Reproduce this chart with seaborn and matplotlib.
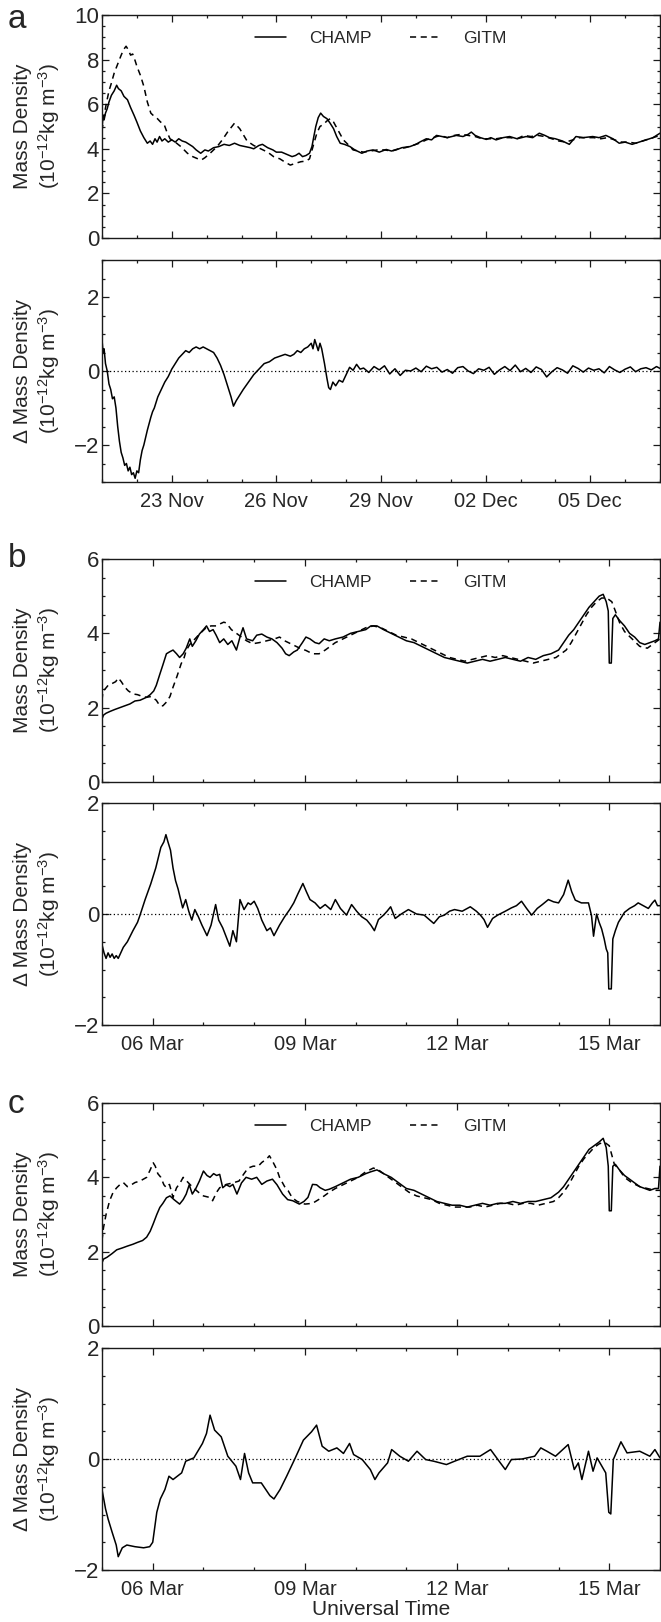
import numpy as np
import pandas as pd
import matplotlib
matplotlib.use('Agg')
import matplotlib.pyplot as plt
import matplotlib.dates as mdates
from matplotlib.ticker import MultipleLocator, FixedLocator
import seaborn as sns

sns.set_style("ticks")
plt.rcParams['font.family'] = ['Liberation Sans', 'DejaVu Sans']
plt.rcParams['mathtext.fontset'] = 'custom'
plt.rcParams['mathtext.rm'] = 'Liberation Sans'
plt.rcParams['mathtext.it'] = 'Liberation Sans:italic'
plt.rcParams['mathtext.default'] = 'regular'

# ---------------- panel a (days from 21 Nov 00 UT) ----------------
a_start = '2003-11-21'
a_end = '2003-12-07'
a_ticks = ['2003-11-23', '2003-11-26', '2003-11-29', '2003-12-02', '2003-12-05']

a_champ_day = [0.0, 0.03, 0.06, 0.1, 0.15, 0.2, 0.27, 0.35, 0.42, 0.47, 0.55, 0.63, 0.73, 0.82, 0.92,
               1.0, 1.1, 1.2, 1.3, 1.38, 1.45, 1.52, 1.58, 1.65, 1.72, 1.8, 1.9, 2.0, 2.1, 2.2, 2.3,
               2.4, 2.5, 2.6, 2.7, 2.83, 2.95, 3.05, 3.2, 3.35, 3.5, 3.65, 3.8, 3.95, 4.1, 4.25, 4.35,
               4.5, 4.6, 4.75, 4.9, 5.0, 5.15, 5.3, 5.45, 5.55, 5.65, 5.75, 5.85, 5.95, 6.02, 6.08,
               6.13, 6.2, 6.27, 6.35, 6.45, 6.54, 6.64, 6.73, 6.83, 6.95, 7.11, 7.25, 7.45, 7.6, 7.77,
               7.95, 8.15, 8.3, 8.43, 8.6, 8.83, 9.0, 9.11, 9.3, 9.45, 9.59, 9.75, 9.9, 10.16, 10.35,
               10.5, 10.59, 10.7, 10.85, 11.02, 11.15, 11.3, 11.5, 11.69, 11.9, 12.16, 12.35, 12.54,
               12.7, 12.83, 13.0, 13.2, 13.4, 13.59, 13.8, 14.07, 14.25, 14.45, 14.65, 14.83, 15.0,
               15.2, 15.4, 15.6, 15.8, 16.0]
a_champ = [4.9, 5.5, 5.3, 5.6, 5.8, 6.1, 6.4, 6.6, 6.85, 6.7, 6.6, 6.35, 6.2, 5.85, 5.5,
           5.2, 4.8, 4.5, 4.25, 4.35, 4.2, 4.45, 4.3, 4.55, 4.35, 4.45, 4.3, 4.4, 4.3, 4.45, 4.35,
           4.3, 4.2, 4.1, 3.95, 3.8, 3.95, 3.9, 4.05, 4.1, 4.2, 4.15, 4.25, 4.15, 4.1, 4.05, 4.0,
           4.15, 4.2, 4.05, 3.95, 3.85, 3.85, 3.75, 3.65, 3.7, 3.8, 3.65, 3.7, 3.8, 4.1, 4.6,
           5.0, 5.4, 5.6, 5.45, 5.35, 5.15, 4.9, 4.55, 4.25, 4.2, 4.1, 3.95, 3.8, 3.9, 3.95,
           3.85, 3.97, 3.9, 3.95, 4.05, 4.1, 4.2, 4.3, 4.45, 4.4, 4.6, 4.55, 4.5, 4.6, 4.55,
           4.65, 4.75, 4.6, 4.5, 4.42, 4.5, 4.4, 4.5, 4.55, 4.45, 4.55, 4.5, 4.7,
           4.6, 4.5, 4.45, 4.35, 4.2, 4.55, 4.5, 4.55, 4.5, 4.6, 4.45, 4.25, 4.3,
           4.2, 4.3, 4.4, 4.5, 4.7]

a_gitm_day = [0.0, 0.05, 0.12, 0.2, 0.26, 0.35, 0.45, 0.55, 0.62, 0.69, 0.75, 0.82, 0.88, 0.95, 1.0,
              1.1, 1.2, 1.3, 1.4, 1.5, 1.59, 1.68, 1.78, 1.85, 1.95, 2.1, 2.26, 2.45, 2.6, 2.75, 2.85,
              2.95, 3.1, 3.3, 3.45, 3.6, 3.8, 3.95, 4.16, 4.35, 4.55, 4.75, 4.92, 5.1, 5.25, 5.4,
              5.55, 5.7, 5.85, 5.95, 6.05, 6.16, 6.25, 6.35, 6.45, 6.54, 6.64, 6.78, 6.92, 7.05, 7.2,
              7.35, 7.5, 7.7, 7.9, 8.1, 8.3, 8.5, 8.7, 8.9, 9.1, 9.3, 9.5, 9.7, 9.9, 10.1, 10.3,
              10.5, 10.7, 10.9, 11.1, 11.3, 11.5, 11.7, 11.9, 12.1, 12.3, 12.5, 12.7, 12.9, 13.1,
              13.3, 13.5, 13.7, 13.9, 14.1, 14.3, 14.5, 14.7, 14.9, 15.1, 15.3, 15.5, 15.7, 15.9, 16.0]
a_gitm = [4.8, 5.4, 6.0, 6.6, 6.9, 7.4, 7.8, 8.2, 8.45, 8.6, 8.45, 8.2, 8.25, 7.95, 7.7,
          7.3, 6.8, 6.1, 5.6, 5.45, 5.35, 5.2, 5.1, 4.8, 4.45, 4.3, 4.1, 3.8, 3.65, 3.55, 3.5,
          3.6, 3.8, 4.1, 4.4, 4.75, 5.15, 4.9, 4.35, 4.15, 4.0, 3.85, 3.65, 3.55, 3.4, 3.27,
          3.35, 3.42, 3.45, 3.55, 4.1, 4.7, 5.0, 5.1, 5.25, 5.35, 5.2, 4.8, 4.4, 4.2, 3.95,
          3.9, 3.85, 3.9, 3.95, 3.95, 3.9, 4.0, 4.05, 4.15, 4.25, 4.4, 4.5, 4.6, 4.5, 4.6, 4.65,
          4.6, 4.55, 4.45, 4.45, 4.45, 4.5, 4.5, 4.45, 4.6, 4.55, 4.6, 4.55, 4.45, 4.35,
          4.3, 4.4, 4.5, 4.5, 4.5, 4.45, 4.5, 4.4, 4.3, 4.3, 4.25, 4.35, 4.45, 4.55, 4.6]

a_diff_day = [0.0, 0.03, 0.06, 0.1, 0.15, 0.2, 0.25, 0.3, 0.35, 0.4, 0.45, 0.5, 0.55, 0.6, 0.65,
              0.7, 0.75, 0.8, 0.85, 0.9, 0.95, 1.0, 1.05, 1.1, 1.15, 1.2, 1.3, 1.4, 1.45, 1.5, 1.6,
              1.7, 1.8, 1.9, 2.0, 2.1, 2.2, 2.3, 2.4, 2.5, 2.6, 2.7, 2.8, 2.9, 3.0, 3.1, 3.2, 3.3,
              3.4, 3.5, 3.6, 3.7, 3.77, 3.85, 3.95, 4.05, 4.2, 4.35, 4.5, 4.65, 4.8, 4.95, 5.1,
              5.25, 5.4, 5.5, 5.6, 5.7, 5.8, 5.9, 6.0, 6.05, 6.1, 6.15, 6.2, 6.25, 6.3, 6.38, 6.45,
              6.5, 6.55, 6.62, 6.7, 6.8, 6.9, 7.0, 7.1, 7.2, 7.3, 7.4, 7.5, 7.65, 7.8, 7.95, 8.1,
              8.25, 8.4, 8.55, 8.7, 8.85, 9.0, 9.15, 9.3, 9.45, 9.6, 9.75, 9.9, 10.05, 10.2, 10.35,
              10.5, 10.65, 10.8, 10.95, 11.1, 11.25, 11.4, 11.55, 11.7, 11.85, 12.0, 12.15, 12.3,
              12.45, 12.6, 12.75, 12.9, 13.05, 13.2, 13.35, 13.5, 13.65, 13.8, 13.95, 14.1, 14.25,
              14.4, 14.55, 14.7, 14.85, 15.0, 15.15, 15.3, 15.45, 15.6, 15.75, 15.9, 16.0]
a_diff = [0.85, 0.5, 0.6, 0.2, 0.0, -0.35, -0.5, -0.75, -0.7, -1.0, -1.5, -1.9, -2.2, -2.35, -2.55,
          -2.5, -2.7, -2.6, -2.8, -2.75, -2.9, -2.7, -2.75, -2.4, -2.15, -2.0, -1.6, -1.25, -1.1, -1.0, -0.7,
          -0.5, -0.3, -0.15, 0.05, 0.2, 0.35, 0.45, 0.55, 0.5, 0.6, 0.65, 0.6, 0.65, 0.6, 0.55, 0.5, 0.35,
          0.15, -0.1, -0.4, -0.7, -0.95, -0.8, -0.65, -0.5, -0.3, -0.1, 0.05, 0.2, 0.25, 0.35, 0.4,
          0.45, 0.4, 0.45, 0.55, 0.5, 0.6, 0.65, 0.75, 0.6, 0.85, 0.7, 0.55, 0.75, 0.6, 0.2, -0.2,
          -0.45, -0.5, -0.3, -0.4, -0.25, -0.3, -0.1, 0.1, 0.02, 0.18, 0.05, 0.08, -0.04, 0.12, 0.03, 0.14,
          -0.08, 0.06, -0.12, 0.02, 0.0, 0.08, -0.02, 0.13, 0.06, 0.1, -0.03, 0.04, -0.06, 0.09, 0.12,
          0.0, -0.07, 0.06, 0.02, 0.1, -0.09, 0.03, 0.12, 0.01, 0.16, -0.02, 0.07, -0.04,
          0.11, 0.04, -0.16, -0.02, 0.09, 0.03, -0.06, 0.14, 0.07, -0.03, 0.08, 0.02, 0.06,
          -0.05, 0.12, 0.03, -0.04, 0.05, 0.11, -0.02, 0.06, 0.09, 0.03, 0.12, 0.07]

# ---------------- panels b, c (days from 05 Mar 00 UT) ----------------
bc_start = '2008-03-05'
bc_end = '2008-03-16'
bc_ticks = ['2008-03-06', '2008-03-09', '2008-03-12', '2008-03-15']

b_champ_day = [0.0, 0.03, 0.08, 0.16, 0.25, 0.35, 0.45, 0.55, 0.65, 0.75, 0.88, 0.95, 1.02, 1.07,
               1.14, 1.2, 1.27, 1.33, 1.4, 1.47, 1.53, 1.6, 1.66, 1.73, 1.78, 1.85, 1.92, 2.0, 2.06,
               2.12, 2.19, 2.25, 2.32, 2.4, 2.48, 2.56, 2.65, 2.72, 2.78, 2.85, 2.97, 3.05, 3.15,
               3.25, 3.35, 3.45, 3.55, 3.62, 3.69, 3.78, 3.85, 3.95, 4.02, 4.1, 4.2, 4.28, 4.38,
               4.48, 4.6, 4.75, 4.9, 5.05, 5.2, 5.3, 5.42, 5.55, 5.7, 5.85, 6.0, 6.15, 6.3, 6.45,
               6.6, 6.75, 6.9, 7.05, 7.2, 7.35, 7.5, 7.65, 7.8, 7.95, 8.1, 8.25, 8.4, 8.55, 8.7,
               8.85, 9.0, 9.1, 9.2, 9.3, 9.4, 9.5, 9.6, 9.7, 9.8, 9.88, 9.94, 9.98, 10.0, 10.04,
               10.07, 10.12, 10.2, 10.3, 10.4, 10.5, 10.6, 10.7, 10.8, 10.9, 10.97, 11.0]
b_champ = [1.7, 1.8, 1.85, 1.9, 1.95, 2.0, 2.05, 2.1, 2.18, 2.2, 2.28, 2.35, 2.45, 2.6,
           2.9, 3.15, 3.45, 3.5, 3.55, 3.45, 3.35, 3.45, 3.6, 3.85, 3.65, 3.8, 3.98, 4.1, 4.2,
           4.05, 4.1, 3.95, 3.75, 3.85, 3.7, 3.8, 3.55, 3.9, 4.15, 3.85, 3.8, 3.95, 3.98,
           3.9, 3.85, 3.75, 3.6, 3.45, 3.4, 3.5, 3.55, 3.75, 3.9, 3.85, 3.75, 3.72, 3.85,
           3.8, 3.85, 3.9, 4.0, 4.05, 4.1, 4.2, 4.2, 4.1, 4.0, 3.9, 3.8, 3.75, 3.65, 3.55,
           3.45, 3.35, 3.3, 3.25, 3.2, 3.25, 3.3, 3.25, 3.3, 3.35, 3.3, 3.25, 3.35, 3.3, 3.4,
           3.45, 3.55, 3.75, 3.95, 4.1, 4.3, 4.5, 4.7, 4.85, 5.0, 5.05, 4.85, 4.6, 3.2, 3.2,
           4.4, 4.5, 4.35, 4.2, 4.0, 3.9, 3.75, 3.7, 3.75, 3.8, 3.85, 4.3]

b_gitm_day = [0.0, 0.02, 0.06, 0.12, 0.2, 0.27, 0.32, 0.38, 0.45, 0.52, 0.61, 0.7, 0.8, 0.88, 0.97,
              1.07, 1.14, 1.2, 1.27, 1.34, 1.4, 1.48, 1.56, 1.62, 1.66, 1.73, 1.8, 1.9, 1.99, 2.06,
              2.15, 2.25, 2.32, 2.4, 2.45, 2.55, 2.65, 2.75, 2.85, 2.97, 3.1, 3.25, 3.4, 3.5, 3.6,
              3.75, 3.9, 4.02, 4.15, 4.28, 4.4, 4.48, 4.6, 4.75, 4.9, 5.05, 5.2, 5.35, 5.5, 5.65,
              5.8, 5.95, 6.1, 6.25, 6.4, 6.55, 6.7, 6.85, 7.0, 7.15, 7.3, 7.45, 7.6, 7.75, 7.9,
              8.05, 8.2, 8.35, 8.5, 8.65, 8.8, 8.95, 9.05, 9.15, 9.25, 9.35, 9.45, 9.55, 9.65, 9.75,
              9.85, 9.95, 10.05, 10.12, 10.2, 10.3, 10.45, 10.6, 10.75, 10.9, 11.0]
b_gitm = [2.2, 2.45, 2.5, 2.6, 2.65, 2.7, 2.8, 2.7, 2.55, 2.45, 2.37, 2.35, 2.3, 2.28, 2.3,
          2.2, 2.05, 2.05, 2.15, 2.3, 2.55, 2.85, 3.18, 3.35, 3.54, 3.7, 3.8, 3.95, 4.07, 4.16,
          4.2, 4.2, 4.25, 4.3, 4.28, 4.1, 4.0, 3.9, 3.8, 3.72, 3.75, 3.8, 3.85, 3.9, 3.8,
          3.7, 3.6, 3.54, 3.45, 3.45, 3.55, 3.63, 3.75, 3.85, 3.95, 4.05, 4.15, 4.2, 4.15, 4.05,
          3.95, 3.9, 3.85, 3.75, 3.65, 3.55, 3.45, 3.35, 3.3, 3.25, 3.3, 3.35, 3.4, 3.35, 3.4,
          3.35, 3.3, 3.25, 3.2, 3.25, 3.3, 3.35, 3.45, 3.55, 3.75, 4.0, 4.25, 4.5, 4.7, 4.85,
          4.95, 4.95, 4.85, 4.6, 4.3, 4.05, 3.85, 3.65, 3.6, 3.75, 3.85]

b_diff_day = [0.0, 0.04, 0.08, 0.12, 0.16, 0.2, 0.24, 0.28, 0.32, 0.36, 0.42, 0.5, 0.61, 0.7, 0.75,
              0.85, 0.96, 1.06, 1.16, 1.22, 1.26, 1.3, 1.35, 1.4, 1.45, 1.5, 1.59, 1.65, 1.71, 1.77,
              1.83, 1.9, 1.97, 2.07, 2.15, 2.24, 2.3, 2.38, 2.44, 2.52, 2.58, 2.65, 2.72, 2.8, 2.88,
              2.93, 3.0, 3.07, 3.15, 3.25, 3.32, 3.39, 3.5, 3.6, 3.7, 3.78, 3.86, 3.96, 4.03, 4.1,
              4.2, 4.3, 4.4, 4.51, 4.6, 4.7, 4.82, 4.92, 5.02, 5.12, 5.22, 5.3, 5.37, 5.45, 5.55,
              5.62, 5.69, 5.78, 5.9, 6.04, 6.2, 6.35, 6.45, 6.54, 6.65, 6.75, 6.85, 6.95, 7.1, 7.26,
              7.38, 7.46, 7.53, 7.6, 7.7, 7.8, 7.95, 8.07, 8.17, 8.27, 8.37, 8.47, 8.58, 8.68, 8.8,
              8.9, 9.0, 9.1, 9.19, 9.26, 9.33, 9.45, 9.59, 9.65, 9.69, 9.72, 9.75, 9.8, 9.85, 9.9,
              9.94, 9.97, 9.99, 10.04, 10.07, 10.12, 10.18, 10.3, 10.4, 10.5, 10.57, 10.67, 10.77,
              10.85, 10.9, 10.95, 11.0]
b_diff = [-0.55, -0.7, -0.8, -0.7, -0.78, -0.72, -0.8, -0.75, -0.8, -0.72, -0.6, -0.5, -0.3, -0.15, -0.02,
          0.26, 0.54, 0.83, 1.2, 1.3, 1.43, 1.3, 1.15, 0.83, 0.6, 0.45, 0.11, 0.26, 0.05, -0.11,
          0.08, -0.05, -0.2, -0.39, -0.2, 0.17, -0.11, -0.25, -0.39, -0.58, -0.3, -0.5, 0.26, 0.08, 0.2,
          0.17, 0.23, 0.1, -0.11, -0.3, -0.25, -0.39, -0.2, -0.05, 0.08, 0.2, 0.36, 0.55, 0.4, 0.26,
          0.2, 0.1, 0.17, 0.08, 0.26, 0.1, -0.02, 0.17, 0.05, -0.05, -0.11, -0.2, -0.3, -0.1, -0.02,
          0.05, 0.13, -0.08, 0.0, 0.08, 0.0, -0.02, -0.1, -0.17, -0.05, -0.02, 0.05, 0.08, 0.05, 0.13,
          0.05, -0.02, -0.1, -0.24, -0.08, -0.02, 0.05, 0.11, 0.15, 0.23, 0.1, -0.02, 0.1, 0.17, 0.26,
          0.22, 0.2, 0.35, 0.61, 0.4, 0.25, 0.2, 0.2, -0.03, -0.4, -0.2, 0.0, -0.15, -0.27, -0.45,
          -0.63, -0.7, -1.35, -1.35, -0.45, -0.3, -0.15, 0.03, 0.1, 0.15, 0.2, 0.15, 0.1,
          0.2, 0.25, 0.15, 0.15]

c_champ_day = [0.0, 0.03, 0.1, 0.2, 0.29, 0.4, 0.5, 0.61, 0.7, 0.8, 0.88, 0.95, 1.01, 1.08, 1.14,
               1.2, 1.27, 1.34, 1.42, 1.53, 1.6, 1.66, 1.72, 1.78, 1.85, 1.92, 2.0, 2.07, 2.13, 2.2,
               2.26, 2.32, 2.38, 2.45, 2.52, 2.58, 2.66, 2.75, 2.84, 2.95, 3.05, 3.15, 3.25, 3.36,
               3.45, 3.56, 3.66, 3.76, 3.89, 3.98, 4.06, 4.15, 4.23, 4.3, 4.4, 4.48, 4.6, 4.75, 4.9,
               5.05, 5.2, 5.3, 5.42, 5.55, 5.7, 5.85, 6.0, 6.15, 6.3, 6.45, 6.6, 6.75, 6.9, 7.05,
               7.2, 7.35, 7.5, 7.65, 7.8, 7.95, 8.1, 8.25, 8.4, 8.55, 8.7, 8.85, 9.0, 9.1, 9.2, 9.3,
               9.4, 9.5, 9.6, 9.7, 9.8, 9.88, 9.94, 9.98, 10.0, 10.04, 10.07, 10.12, 10.2, 10.3,
               10.4, 10.5, 10.6, 10.7, 10.8, 10.9, 10.97, 11.0]
c_champ = [1.7, 1.8, 1.85, 1.95, 2.05, 2.1, 2.15, 2.2, 2.25, 2.3, 2.39, 2.55, 2.75, 3.0, 3.19,
           3.3, 3.45, 3.5, 3.4, 3.28, 3.4, 3.55, 3.8, 3.55, 3.7, 3.9, 4.17, 4.05, 4.0, 4.1,
           4.05, 4.08, 3.72, 3.8, 3.75, 3.81, 3.55, 3.85, 4.0, 3.95, 4.0, 3.81, 3.9, 3.95,
           3.8, 3.55, 3.4, 3.37, 3.28, 3.35, 3.46, 3.81, 3.8, 3.72, 3.65, 3.68, 3.75, 3.85, 3.95,
           4.0, 4.1, 4.15, 4.2, 4.1, 4.0, 3.85, 3.7, 3.65, 3.55, 3.45, 3.35, 3.3, 3.25, 3.25,
           3.2, 3.25, 3.3, 3.25, 3.3, 3.3, 3.35, 3.3, 3.35, 3.35, 3.4, 3.45, 3.6, 3.75, 3.95, 4.15,
           4.35, 4.55, 4.75, 4.85, 4.95, 5.05, 4.8, 4.3, 3.1, 3.1, 4.3, 4.35, 4.2, 4.05,
           3.95, 3.85, 3.75, 3.7, 3.65, 3.7, 3.7, 4.3]

c_gitm_day = [0.0, 0.03, 0.08, 0.15, 0.22, 0.29, 0.35, 0.42, 0.5, 0.58, 0.65, 0.75, 0.88, 0.95, 1.01,
              1.05, 1.1, 1.16, 1.22, 1.27, 1.33, 1.4, 1.47, 1.54, 1.6, 1.67, 1.74, 1.8, 1.9, 2.0,
              2.12, 2.18, 2.26, 2.32, 2.45, 2.58, 2.7, 2.8, 2.88, 2.98, 3.08, 3.15, 3.25, 3.3, 3.36,
              3.45, 3.5, 3.6, 3.67, 3.75, 3.85, 4.0, 4.15, 4.28, 4.38, 4.48, 4.6, 4.75, 4.9, 5.05,
              5.2, 5.35, 5.45, 5.6, 5.75, 5.9, 6.05, 6.2, 6.35, 6.5, 6.65, 6.8, 6.95, 7.1, 7.25,
              7.4, 7.55, 7.7, 7.85, 8.0, 8.15, 8.3, 8.45, 8.6, 8.75, 8.9, 9.0, 9.1, 9.2, 9.3, 9.4,
              9.5, 9.6, 9.7, 9.8, 9.9, 10.0, 10.05, 10.1, 10.2, 10.3, 10.45, 10.6, 10.75, 10.9, 11.0]
c_gitm = [2.3, 2.65, 3.0, 3.37, 3.6, 3.72, 3.8, 3.86, 3.75, 3.8, 3.86, 3.9, 4.0, 4.2, 4.39,
          4.3, 4.1, 4.0, 3.8, 3.72, 3.81, 3.46, 3.72, 3.85, 4.0, 3.9, 3.8, 3.72, 3.6, 3.5,
          3.46, 3.37, 3.6, 3.72, 3.81, 3.85, 3.9, 4.1, 4.25, 4.3, 4.3, 4.4, 4.5, 4.58, 4.44,
          4.2, 4.0, 3.75, 3.64, 3.45, 3.35, 3.28, 3.3, 3.41, 3.5, 3.6, 3.7, 3.8, 3.9, 4.0,
          4.15, 4.25, 4.2, 4.05, 3.9, 3.75, 3.6, 3.5, 3.45, 3.4, 3.3, 3.25, 3.2, 3.2, 3.2,
          3.25, 3.2, 3.25, 3.3, 3.3, 3.25, 3.3, 3.3, 3.25, 3.3, 3.35, 3.45, 3.6, 3.8, 4.05, 4.3,
          4.5, 4.65, 4.8, 4.9, 4.95, 4.85, 4.6, 4.35, 4.2, 4.0, 3.85, 3.75, 3.7, 3.65, 3.65]

c_diff_day = [0.0, 0.07, 0.12, 0.2, 0.28, 0.32, 0.4, 0.49, 0.65, 0.82, 0.94, 1.0, 1.08, 1.15, 1.24,
              1.32, 1.4, 1.57, 1.65, 1.81, 1.98, 2.06, 2.13, 2.22, 2.35, 2.48, 2.64, 2.73, 2.81,
              2.89, 2.97, 3.14, 3.31, 3.39, 3.51, 3.64, 3.8, 3.97, 4.13, 4.23, 4.34, 4.47, 4.63,
              4.76, 4.88, 4.96, 5.13, 5.29, 5.38, 5.46, 5.63, 5.71, 5.87, 6.04, 6.21, 6.38, 6.54,
              6.79, 6.95, 7.2, 7.45, 7.66, 7.78, 7.95, 8.07, 8.28, 8.53, 8.65, 8.77, 8.94, 9.19,
              9.31, 9.39, 9.46, 9.59, 9.68, 9.76, 9.93, 9.99, 10.03, 10.08, 10.23, 10.35, 10.6,
              10.8, 10.9, 11.0]
c_diff = [-0.55, -0.9, -1.08, -1.32, -1.55, -1.76, -1.6, -1.55, -1.58, -1.6, -1.58, -1.5, -0.96, -0.72, -0.55,
          -0.31, -0.37, -0.25, -0.04, 0.02, 0.28, 0.46, 0.79, 0.52, 0.4, 0.05, -0.13, -0.37, 0.1,
          -0.25, -0.43, -0.43, -0.66, -0.72, -0.55, -0.31, 0.0, 0.34, 0.49, 0.61, 0.23, 0.14, 0.2,
          0.1, 0.28, 0.08, -0.01, -0.19, -0.37, -0.25, -0.07, 0.17, 0.05, -0.04, 0.14, -0.01, -0.04,
          -0.1, -0.04, 0.05, 0.05, 0.17, 0.02, -0.19, -0.01, 0.0, 0.05, 0.2, 0.14, 0.05, 0.26,
          -0.19, -0.07, -0.37, 0.14, -0.22, 0.02, -0.25, -0.96, -0.99, -0.01, 0.31, 0.11, 0.14,
          0.05, 0.17, 0.02]

# ---------------- figure ----------------
W, H = 661, 1622
fig = plt.figure(figsize=(W / 100, H / 100), dpi=100)

def add_ax(top, bottom, left=102, right=660):
    return fig.add_axes([left / W, 1 - bottom / H, (right - left) / W, (bottom - top) / H])

ink = '#1a1a1a'
ylab_top = 'Mass Density\n(10$^{-12}$kg m$^{-3}$)'
ylab_bot = '\u0394 Mass Density\n(10$^{-12}$kg m$^{-3}$)'


def to_time(start, days):
    return pd.Timestamp(start) + pd.to_timedelta(np.asarray(days), unit='D')


def style(ax, start, end, ticks, ylim, show_dates):
    ax.set_xlim(pd.Timestamp(start), pd.Timestamp(end))
    ax.set_ylim(*ylim)
    ax.xaxis.set_major_locator(FixedLocator(mdates.date2num(pd.to_datetime(ticks))))
    ax.xaxis.set_minor_locator(mdates.DayLocator())
    ax.xaxis.set_major_formatter(mdates.DateFormatter('%d %b'))
    ax.yaxis.set_major_locator(MultipleLocator(2))
    ax.yaxis.set_minor_locator(MultipleLocator(0.5))
    ax.tick_params(which='both', direction='in', top=True, right=True, color=ink, width=0.9)
    ax.tick_params(which='major', length=5, pad=3)
    ax.tick_params(which='minor', length=2.5)
    ax.tick_params(axis='y', which='major', labelsize=16, pad=2)
    ax.tick_params(axis='x', which='major', labelsize=14.5, pad=7, labelbottom=show_dates)
    for s in ax.spines.values():
        s.set_color(ink)
        s.set_linewidth(1.0)
    ax.set_xlabel('')


def upper(ax, start, day_c, val_c, day_g, val_g, end, ticks, ylim):
    sns.lineplot(x=to_time(start, day_c), y=val_c, ax=ax, color='k', lw=1.1, label='CHAMP')
    sns.lineplot(x=to_time(start, day_g), y=val_g, ax=ax, color='k', lw=1.1,
                 linestyle=(0, (4, 3)), label='GITM')
    style(ax, start, end, ticks, ylim, False)
    ax.set_ylabel(ylab_top, fontsize=15, linespacing=1.2)
    ax.yaxis.set_label_coords(-0.072, 0.5)
    ax.legend(loc='upper center', ncol=2, frameon=False, fontsize=12.5,
              handlelength=1.8, handletextpad=1.3, columnspacing=2.2)


def lower(ax, start, day_d, val_d, end, ticks, ylim):
    ax.axhline(0, color='k', lw=0.9, ls=(0, (1, 2)))
    sns.lineplot(x=to_time(start, day_d), y=val_d, ax=ax, color='k', lw=1.1)
    style(ax, start, end, ticks, ylim, True)
    ax.set_ylabel(ylab_bot, fontsize=15, linespacing=1.2)
    ax.yaxis.set_label_coords(-0.072, 0.5)


ax1 = add_ax(15, 238)
upper(ax1, a_start, a_champ_day, a_champ, a_gitm_day, a_gitm, a_end, a_ticks, (0, 10))
ax2 = add_ax(260, 482)
lower(ax2, a_start, a_diff_day, a_diff, a_end, a_ticks, (-3, 3))

ax3 = add_ax(559, 782)
upper(ax3, bc_start, b_champ_day, b_champ, b_gitm_day, b_gitm, bc_end, bc_ticks, (0, 6))
ax4 = add_ax(803, 1025)
lower(ax4, bc_start, b_diff_day, b_diff, bc_end, bc_ticks, (-2, 2))

ax5 = add_ax(1103, 1326)
upper(ax5, bc_start, c_champ_day, c_champ, c_gitm_day, c_gitm, bc_end, bc_ticks, (0, 6))
ax6 = add_ax(1348, 1570)
lower(ax6, bc_start, c_diff_day, c_diff, bc_end, bc_ticks, (-2, 2))
ax6.set_xlabel('Universal Time', fontsize=15, labelpad=1)

for letter, base in [('a', 28), ('b', 567), ('c', 1113)]:
    fig.text(8 / W, 1 - base / H, letter, fontsize=24, va='baseline', ha='left')

fig.savefig('out.png', dpi=100)
